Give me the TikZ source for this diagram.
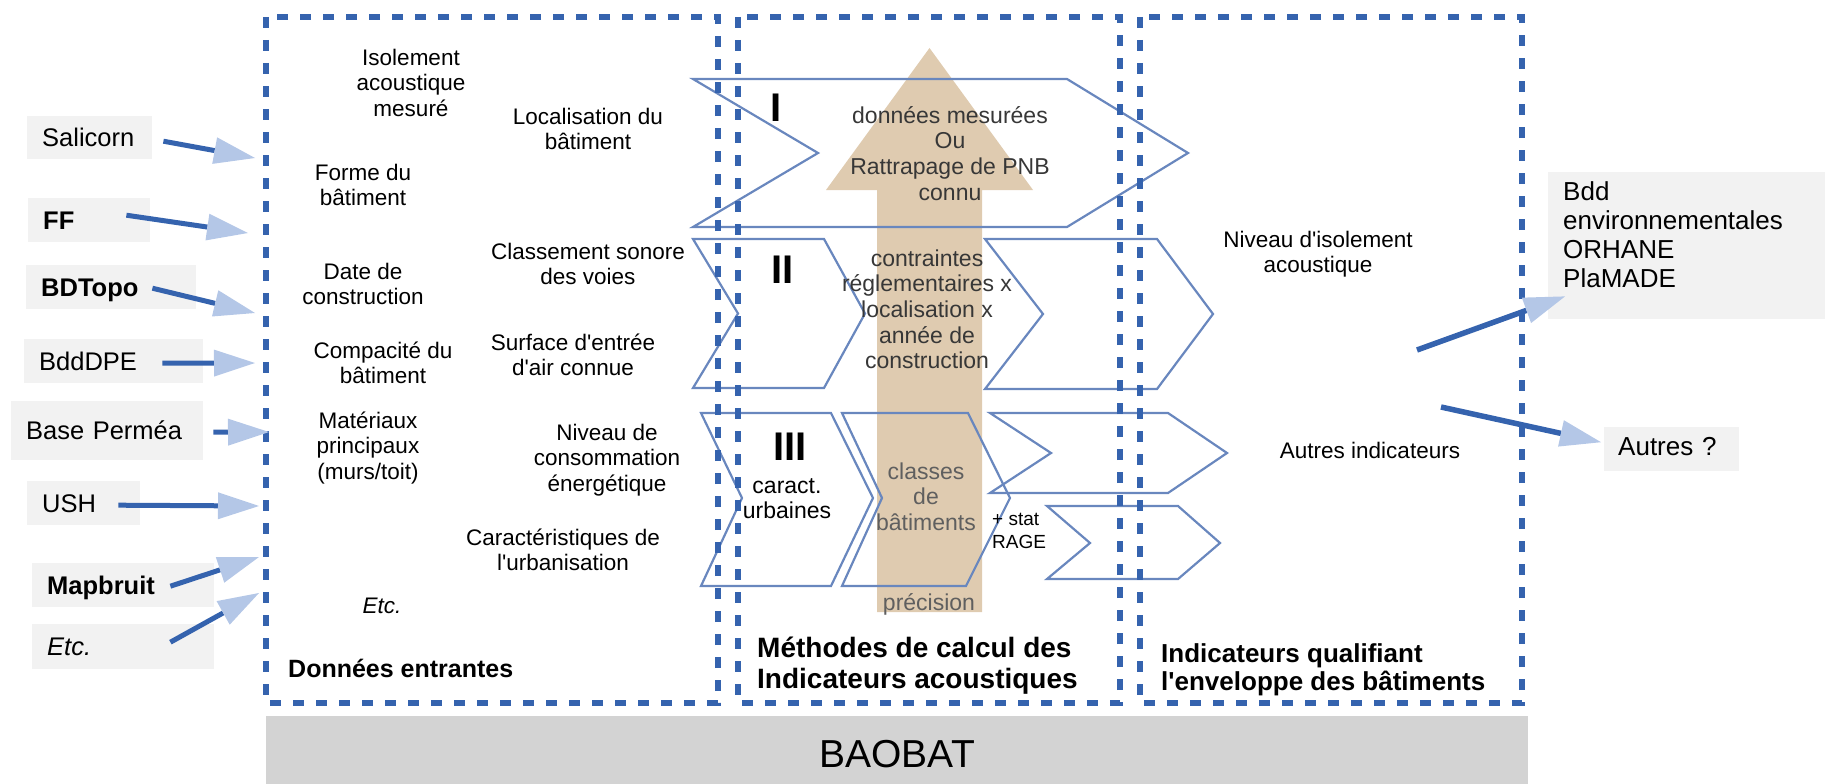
\documentclass[tikz,border=0pt]{standalone}
\usepackage{fontspec}
\setmainfont{Liberation Sans}
\usetikzlibrary{arrows.meta,calc}
\definecolor{dblue}{RGB}{53,99,174}
\definecolor{lblue}{RGB}{180,199,231}
\definecolor{chev}{RGB}{105,135,190}
\definecolor{beige}{RGB}{223,203,176}
\definecolor{boxgray}{RGB}{242,242,242}
\definecolor{bargray}{RGB}{211,211,211}
\definecolor{midtxt}{RGB}{55,55,55}
\definecolor{graytxt}{RGB}{95,95,95}
\newcommand\tstr{\rule{0pt}{1em}}
\newcommand\apos{\textquotesingle}
\newcommand\fntsrc{\fontsize{25.5}{29}\selectfont}
\newcommand\fntin{\fontsize{22.5}{25.5}\selectfont}
\newcommand\fntmid{\fontsize{23}{25.6}\selectfont}
\newcommand\fntrom{\fontsize{40}{44}\selectfont\bfseries}
\newcommand\fntstat{\fontsize{19}{23}\selectfont}
\tikzset{
  region/.style={draw=dblue, line width=5.5pt, dash pattern=on 11pt off 12pt},
  src/.style={fill=boxgray, inner xsep=15pt, inner ysep=0pt, anchor=north west,
    font=\fntsrc, text height=18.4pt, text depth=0pt, align=left},
  inarrow/.style={draw=dblue, line width=5pt,
    -{Triangle[length=41pt, width=27pt, color=lblue, line width=0pt]}},
  chevron/.style={draw=chev, line width=2.2pt, line join=miter},
  inlbl/.style={inner sep=0pt, align=center, anchor=north, font=\fntin},
  midlbl/.style={inner sep=0pt, align=center, anchor=north, font=\fntmid, text=midtxt},
  title/.style={inner sep=0pt, align=left, anchor=north west},
}
\begin{document}
\begin{tikzpicture}[x=1pt, y=-1pt]
\useasboundingbox (0,0) rectangle (1825,784);

% bottom bar
\node[fill=bargray, anchor=north west, minimum width=1262pt, minimum height=74pt,
  inner sep=0pt, font=\fontsize{39}{44}\selectfont, text height=28pt, text depth=0pt]
  (baobat) at (266,716) {BAOBAT};

% big beige arrow (precision)
\fill[beige] (877,612) -- (877,190) -- (826,190) -- (929.5,48) -- (1033,190)
  -- (982,190) -- (982,612) -- cycle;

% chevrons
\draw[chevron] (693,79) -- (1067,79) -- (1188,153) -- (1067,227) -- (693,227) -- (818,153) -- cycle;
\draw[chevron] (693,239) -- (824,239) -- (865,313.5) -- (824,388) -- (693,388) -- (738,313.5) -- cycle;
\draw[chevron] (985,239) -- (1157,239) -- (1213,314) -- (1157,389) -- (985,389) -- (1043,314) -- cycle;
\draw[chevron] (701,413) -- (831,413) -- (873,498) -- (831,586) -- (701,586) -- (742,498) -- cycle;
\draw[chevron] (842,413) -- (968,413) -- (1010,498) -- (966,586) -- (842,586) -- (882,498) -- cycle;
\draw[chevron] (990,413) -- (1168,413) -- (1227,453) -- (1168,493) -- (990,493) -- (1051,453) -- cycle;
\draw[chevron] (1047,506) -- (1178,506) -- (1220,543) -- (1178,579) -- (1047,579) -- (1090,543) -- cycle;

% dashed regions
\draw[region] (266,17) rectangle (718,703);
\draw[region] (738,17) rectangle (1120,703);
\draw[region] (1140,17) rectangle (1522,703);

% source boxes
\node[src, text width=95pt, minimum height=43pt] (sal) at (27,116) {Salicorn};
\node[src, text width=92pt, minimum height=44pt, font=\fntsrc\bfseries] (ff) at (28,198) {FF};
\node[src, text width=140pt, minimum height=44pt, font=\fntsrc\bfseries] (bdt) at (26,265) {BDTopo};
\node[src, text width=149pt, minimum height=44pt] (dpe) at (24,339) {BddDPE};
\node[src, text width=162pt, minimum height=59pt] (perm) at (11,401) {Base Perméa};
\node[src, text width=83pt, minimum height=44pt] (ush) at (27,481) {USH};
\node[src, text width=152pt, minimum height=44pt, font=\fntsrc\bfseries] (mapb) at (32,563) {Mapbruit};
\node[src, text width=152pt, minimum height=45pt, font=\fntsrc\itshape] (etcs) at (32,624) {Etc.};

% arrow tips on the input region
\coordinate (tSal) at (255,158);
\coordinate (tFF) at (248,233);
\coordinate (tBdt) at (255,313);
\coordinate (tDpe) at (255,363);
\coordinate (tPerm) at (269,432);
\coordinate (tUsh) at (259,506);
\coordinate (tMap) at (259,557);
\coordinate (tEtc) at (259,593);

\draw[inarrow] ($(sal.east)+(11,3.5)$) -- (tSal);
\draw[inarrow] ($(ff.east)+(-24,-5)$) -- (tFF);
\draw[inarrow] ($(bdt.east)+(-44,1)$) -- (tBdt);
\draw[inarrow] ($(dpe.east)+(-41,2)$) -- (tDpe);
\draw[inarrow] ($(perm.east)+(10,1.5)$) -- (tPerm);
\draw[inarrow] ($(ush.east)+(-22,2)$) -- (tUsh);
\draw[inarrow] ($(mapb.east)+(-44,1)$) -- (tMap);
\draw[inarrow] ($(etcs.east)+(-44,-4.5)$) -- (tEtc);

% texts of the input region
\node[inlbl] (iso) at (411,42.5) {\tstr Isolement\\acoustique\\mesuré};
\node[inlbl] (loc) at (588,101.5) {\tstr Localisation du\\bâtiment};
\node[inlbl] (forme) at (363,157.5) {\tstr Forme du\\bâtiment};
\node[inlbl] (date) at (363,256.5) {\tstr Date de\\construction};
\node[inlbl] (clas) at (588,236.5) {\tstr Classement sonore\\des voies};
\node[inlbl] (comp) at (383,335.5) {\tstr Compacité du\\bâtiment};
\node[inlbl] (surf) at (573,327.5) {\tstr Surface d\apos entrée\\d\apos air connue};
\node[inlbl] (mat) at (368,405.5) {\tstr Matériaux\\principaux\\(murs/toit)};
\node[inlbl] (cons) at (607,417.5) {\tstr Niveau de\\consommation\\énergétique};
\node[inlbl] (urbn) at (563,522.5) {\tstr Caractéristiques de\\l\apos urbanisation};
\node[inner sep=0pt, anchor=base, font=\fntin\itshape] (etc1) at (382,613) {Etc.};
\node[title, anchor=base west, font=\fontsize{25}{29}\selectfont\bfseries] (t1) at (288,677) {Données entrantes};

% texts of the methods region
\node[inner sep=0pt, anchor=base west, font=\fntrom] (r1) at (770,121) {I};
\node[inner sep=0pt, anchor=base west, font=\fntrom] (r2) at (771,283) {II};
\node[inner sep=0pt, anchor=base west, font=\fntrom] (r3) at (773,460) {III};
\node[midlbl] (mes) at (950,100) {\tstr données mesurées\\Ou\\Rattrapage de PNB\\connu};
\node[midlbl] (contr) at (927,243) {\tstr contraintes\\réglementaires x\\localisation x\\année de\\construction};
\node[midlbl, text=black] (urb) at (787,470) {\tstr caract.\\urbaines};
\node[midlbl, text=graytxt] (cls) at (926,456) {\tstr classes\\de\\bâtiments};
\node[inner sep=0pt, anchor=base, font=\fntmid, text=graytxt] (prec) at (929,610) {précision};
\node[title, font=\fntstat] (stat) at (992,506) {\tstr + stat\\RAGE};
\node[title, font=\fontsize{28}{31}\selectfont\bfseries] (t2) at (757,629) {\tstr Méthodes de calcul des\\Indicateurs acoustiques};

% texts of the indicators region
\node[inlbl] (niv) at (1318,224.5) {\tstr Niveau d\apos isolement\\acoustique};
\node[inner sep=0pt, anchor=base, font=\fntin] (aut) at (1370,458) {Autres indicateurs};
\node[title, font=\fontsize{26}{28}\selectfont\bfseries] (t3) at (1161,636) {\tstr Indicateurs qualifiant\\l\apos enveloppe des bâtiments};

% output boxes
\node[fill=boxgray, anchor=north west, minimum width=277pt, minimum height=147pt, inner sep=0pt] (bdd) at (1548,172) {};
\node[title, font=\fontsize{26}{29}\selectfont] (bddtxt) at (1563,174) {\tstr Bdd\\environnementales\\ORHANE\\PlaMADE};
\node[src, text width=107pt, minimum height=44pt, inner xsep=14pt, font=\fontsize{26}{29}\selectfont,
  text height=18.7pt, text depth=6pt] (autres) at (1604,427) {Autres ?};

\coordinate (sBdd) at (1417,350);
\coordinate (sAut) at (1441,407);
\draw[inarrow, line width=5.5pt] (sBdd) -- ($(bdd.south west)+(17,-23)$);
\draw[inarrow, line width=5.5pt] (sAut) -- ($(autres.west)+(-3,-7)$);
\end{tikzpicture}
\end{document}
